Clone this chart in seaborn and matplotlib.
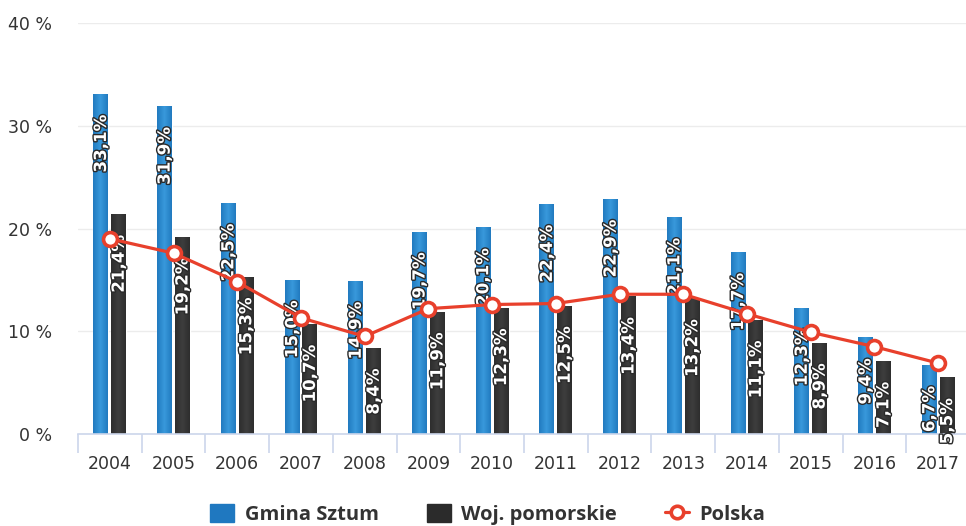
import numpy as np
import pandas as pd
import matplotlib
matplotlib.use("Agg")
import matplotlib.pyplot as plt
import matplotlib.patheffects as pe
from matplotlib.patches import Patch
from matplotlib.lines import Line2D
import seaborn as sns

years = ["2004", "2005", "2006", "2007", "2008", "2009", "2010",
         "2011", "2012", "2013", "2014", "2015", "2016", "2017"]
gmina_sztum = [33.1, 31.9, 22.5, 15.0, 14.9, 19.7, 20.1,
               22.4, 22.9, 21.1, 17.7, 12.3, 9.4, 6.7]
woj_pomorskie = [21.4, 19.2, 15.3, 10.7, 8.4, 11.9, 12.3,
                 12.5, 13.4, 13.2, 11.1, 8.9, 7.1, 5.5]
polska = [19.0, 17.6, 14.8, 11.3, 9.5, 12.2, 12.6,
          12.7, 13.6, 13.6, 11.7, 9.9, 8.5, 6.9]
y_ticks = [0, 10, 20, 30, 40]

series_names = ["Gmina Sztum", "Woj. pomorskie"]
df = pd.DataFrame({
    "rok": years * 2,
    "seria": [series_names[0]] * len(years) + [series_names[1]] * len(years),
    "wartosc": gmina_sztum + woj_pomorskie,
})

BLUE = "#1f78c0"
BLACK = "#2b2b2b"
RED = "#e8402c"
AXIS = "#ccd6eb"
TEXT = "#333333"

sns.set_theme(style="white")
plt.rcParams["font.family"] = ["DejaVu Sans"]

fig = plt.figure(figsize=(9.66, 5.26), dpi=100)
ax = fig.add_axes([78 / 966, 92 / 526, 892 / 966, 411 / 526])

sns.barplot(data=df, x="rok", y="wartosc", hue="seria", order=years,
            hue_order=series_names, palette=[BLUE, BLACK],
            width=0.56, gap=0.16, saturation=1, legend=False, ax=ax,
            zorder=2)

# soft horizontal shading on the bars
n = len(years)
grad = np.linspace(0, 1, 64)
shade = 1 - 0.55 * np.abs(grad - 0.5) * 2
for i, patch in enumerate(ax.patches[: 2 * n]):
    x0, y0 = patch.get_x(), patch.get_y()
    w, h = patch.get_width(), patch.get_height()
    if i < n:
        dark = np.array([0.06, 0.38, 0.66])
        light = np.array([0.22, 0.60, 0.86])
    else:
        dark = np.array([0.13, 0.13, 0.13])
        light = np.array([0.24, 0.24, 0.24])
    img = dark[None, :] + (light - dark)[None, :] * shade[:, None]
    im = ax.imshow(img[None, :, :], extent=(x0, x0 + w, y0, y0 + h),
                   aspect="auto", zorder=2.5, interpolation="bilinear")
    im.set_clip_path(patch)

# value labels, rotated, inside the top of each bar
outline = [pe.withStroke(linewidth=2.0, foreground="#2a2a2a")]
for i, patch in enumerate(ax.patches[: 2 * n]):
    v = patch.get_height()
    cx = patch.get_x() + patch.get_width() / 2
    ax.annotate(f"{v:.1f}".replace(".", ",") + "%", xy=(cx, v),
                xytext=(0, -15), textcoords="offset points",
                rotation=90, ha="center", va="top", color="white",
                fontsize=12, fontweight="bold", path_effects=outline,
                zorder=4, annotation_clip=False)

# national line
ax.plot(np.arange(n), polska, color=RED, lw=2.3, zorder=5,
        marker="o", markersize=10, markerfacecolor="white",
        markeredgecolor=RED, markeredgewidth=2.6, solid_capstyle="round")

ax.set_xlim(-0.5, n - 0.5)
ax.set_ylim(0, 40)
ax.set_yticks(y_ticks)
ax.set_yticklabels([f"{t} %" for t in y_ticks])
ax.set_xlabel("")
ax.set_ylabel("")
ax.grid(axis="y", color="#ececec", lw=1, zorder=0)
for s in ["top", "right", "left"]:
    ax.spines[s].set_visible(False)
ax.spines["bottom"].set_color(AXIS)
ax.spines["bottom"].set_linewidth(1.2)
ax.spines["bottom"].set_zorder(3)

ax.set_xticks(np.arange(-0.5, n, 1.0), minor=True)
ax.tick_params(axis="x", which="major", length=0, pad=15,
               labelsize=12.5, labelcolor=TEXT)
ax.tick_params(axis="x", which="minor", length=14, width=1.2,
               color=AXIS, bottom=True)
ax.tick_params(axis="y", length=0, pad=18.5, labelsize=12.5,
               labelcolor=TEXT)

handles = [
    Patch(facecolor=BLUE, edgecolor=BLUE),
    Patch(facecolor=BLACK, edgecolor=BLACK),
    Line2D([0], [0], color=RED, lw=2.3, marker="o", markersize=9,
           markerfacecolor="white", markeredgecolor=RED,
           markeredgewidth=2.6),
]
fig.legend(handles, series_names + ["Polska"], loc="lower center",
           bbox_to_anchor=(0.505, -0.033), ncol=3, frameon=False,
           prop={"family": "Open Sans", "weight": "bold", "size": 14.5},
           labelcolor=TEXT, columnspacing=2.4, handlelength=1.2,
           handleheight=1.0, handletextpad=0.5)

fig.savefig("out.png", dpi=100, facecolor="white")
